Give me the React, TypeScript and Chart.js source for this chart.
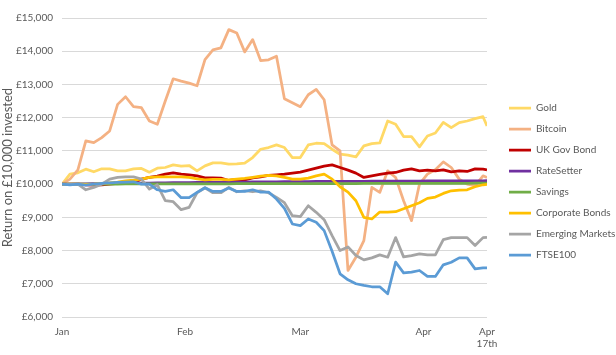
import React, { useEffect, useRef } from "react";
import { Chart, registerables } from "chart.js";

Chart.register(...registerables);

// Day offsets from 1 January (every second day, plus 17 April)
const days = [0, 2, 4, 6, 8, 10, 12, 14, 16, 18, 20, 22, 24, 26, 28, 30, 32, 34, 36, 38, 40, 42, 44, 46, 48, 50, 52, 54, 56, 58, 60, 62, 64, 66, 68, 70, 72, 74, 76, 78, 80, 82, 84, 86, 88, 90, 92, 94, 96, 98, 100, 102, 104, 106, 107];

const tickDays = [0, 31, 60, 91, 107];
const tickLabels: (string | string[])[] = ["Jan", "Feb", "Mar", "Apr", ["Apr", "17th"]];

const seriesNames = ["Gold", "Bitcoin", "UK Gov Bond", "RateSetter", "Savings", "Corporate Bonds", "Emerging Markets", "FTSE100"];

const gold = [10000, 10300, 10340, 10450, 10370, 10460, 10460, 10400, 10400, 10460, 10470, 10360, 10480, 10500, 10580, 10540, 10560, 10400, 10550, 10640, 10640, 10600, 10610, 10630, 10800, 11050, 11100, 11180, 11100, 10800, 10800, 11180, 11230, 11220, 11050, 10900, 10870, 10820, 11150, 11220, 11240, 11900, 11800, 11430, 11430, 11120, 11450, 11540, 11860, 11700, 11850, 11900, 11970, 12030, 11750];
const bitcoin = [10000, 10150, 10430, 11300, 11250, 11400, 11600, 12400, 12630, 12330, 12300, 11900, 11800, 12500, 13170, 13100, 13040, 12960, 13750, 14040, 14100, 14650, 14550, 13980, 14350, 13720, 13740, 13850, 12570, 12450, 12330, 12690, 12850, 12540, 11180, 11000, 7400, 7800, 8300, 9900, 9750, 10400, 10200, 9500, 8900, 10000, 10300, 10430, 10670, 10500, 10150, 10000, 9950, 10250, 10200];
const ukGovBond = [10000, 10000, 10000, 9980, 9970, 9980, 10000, 10020, 10030, 10050, 10150, 10200, 10240, 10300, 10340, 10300, 10280, 10250, 10190, 10190, 10180, 10110, 10140, 10130, 10190, 10220, 10260, 10280, 10300, 10330, 10360, 10420, 10480, 10540, 10580, 10500, 10420, 10330, 10200, 10250, 10290, 10330, 10350, 10420, 10460, 10400, 10420, 10400, 10430, 10370, 10400, 10380, 10460, 10450, 10430];
const rateSetter = [10000, 10003, 10006, 10009, 10012, 10015, 10018, 10021, 10024, 10027, 10030, 10033, 10036, 10039, 10042, 10045, 10048, 10050, 10052, 10054, 10056, 10058, 10060, 10062, 10064, 10066, 10068, 10070, 10072, 10074, 10076, 10078, 10080, 10081, 10082, 10083, 10084, 10085, 10086, 10087, 10088, 10089, 10090, 10091, 10092, 10093, 10094, 10095, 10096, 10097, 10098, 10099, 10100, 10101, 10102];
const savings = [10000, 10000, 10001, 10001, 10002, 10002, 10003, 10003, 10004, 10004, 10005, 10005, 10006, 10006, 10007, 10007, 10008, 10008, 10009, 10009, 10010, 10010, 10011, 10011, 10012, 10012, 10013, 10013, 10014, 10014, 10015, 10015, 10016, 10016, 10017, 10017, 10018, 10018, 10019, 10019, 10020, 10020, 10021, 10021, 10022, 10022, 10023, 10023, 10024, 10024, 10025, 10025, 10026, 10026, 10026];
const corporateBonds = [10000, 10000, 10000, 9990, 10000, 10020, 10040, 10060, 10100, 10120, 10150, 10200, 10220, 10220, 10220, 10220, 10200, 10160, 10130, 10140, 10140, 10130, 10150, 10170, 10200, 10240, 10260, 10250, 10200, 10150, 10150, 10180, 10250, 10300, 10150, 9920, 9760, 9500, 9000, 8950, 9160, 9160, 9170, 9260, 9350, 9440, 9570, 9610, 9720, 9800, 9820, 9830, 9920, 9980, 9990];
const emergingMarkets = [10000, 10000, 10000, 9830, 9900, 10000, 10150, 10200, 10220, 10220, 10150, 9850, 9980, 9500, 9470, 9230, 9300, 9740, 9890, 9740, 9740, 9900, 9770, 9800, 9770, 9800, 9740, 9600, 9440, 9050, 9020, 9350, 9150, 8930, 8450, 8000, 8110, 7850, 7720, 7780, 7870, 7800, 8390, 7810, 7850, 7900, 7870, 7870, 8330, 8390, 8390, 8390, 8150, 8390, 8400];
const ftse100 = [10000, 9980, 10000, 9970, 10000, 10020, 10040, 10050, 10060, 10070, 10000, 10000, 9830, 9780, 9830, 9590, 9590, 9750, 9890, 9780, 9780, 9880, 9780, 9780, 9830, 9760, 9760, 9550, 9270, 8800, 8750, 8950, 8850, 8600, 7980, 7300, 7120, 7000, 6950, 6910, 6910, 6700, 7650, 7330, 7350, 7400, 7220, 7220, 7570, 7650, 7780, 7780, 7450, 7480, 7480];

const seriesValues = [gold, bitcoin, ukGovBond, rateSetter, savings, corporateBonds, emergingMarkets, ftse100];
const seriesColors = ["#FFD966", "#F4B183", "#C00000", "#7030A0", "#70AD47", "#FFC000", "#A5A5A5", "#5B9BD5"];

const FONT = "Lato, Roboto, sans-serif";
const TEXT = "#595959";
const LEGEND_PAD = 11;

const legendPlace = {
  id: "legendPlace",
  afterLayout(chart: any) {
    const l = chart.legend;
    if (!l) return;
    const w = l.width;
    const h = l.height;
    const colH = l.columnSizes && l.columnSizes[0] ? l.columnSizes[0].height : 168;
    const firstTop = 103;
    const top = (2 * firstTop - LEGEND_PAD - h + colH) / 2;
    const left = 509 - LEGEND_PAD;
    l.left = left;
    l.right = left + w;
    l.top = top;
    l.bottom = top + h;
  },
};

export default function App() {
  const ref = useRef<HTMLCanvasElement | null>(null);

  useEffect(() => {
    if (!ref.current) return;
    Chart.defaults.font.family = FONT;
    const chart = new Chart(ref.current, {
      type: "line",
      data: {
        datasets: seriesNames.map((name, i) => ({
          label: name,
          data: seriesValues[i].map((v, j) => ({ x: days[j], y: v })),
          borderColor: seriesColors[i],
          backgroundColor: seriesColors[i],
          borderWidth: 2.75,
          pointRadius: 0,
          tension: 0,
          fill: false,
          order: seriesNames.length - 1 - i,
          borderJoinStyle: "round" as const,
        })),
      },
      options: {
        animation: false,
        responsive: false,
        layout: { padding: { left: 0, top: 18, right: 129, bottom: 0 } },
        plugins: {
          tooltip: { enabled: false },
          legend: {
            position: "chartArea",
            labels: {
              usePointStyle: true,
              pointStyle: "line",
              pointStyleWidth: 22,
              padding: LEGEND_PAD,
              color: TEXT,
              font: { size: 10, family: FONT },
              sort: (a: any, b: any) => a.datasetIndex - b.datasetIndex,
            },
          },
        },
        scales: {
          x: {
            type: "linear",
            min: 0,
            max: 107,
            grid: { display: false, drawTicks: false },
            border: { display: false },
            afterBuildTicks: (scale: any) => {
              scale.ticks = tickDays.map((v) => ({ value: v }));
            },
            afterFit: (scale: any) => {
              scale.height = 38;
            },
            ticks: {
              autoSkip: false,
              maxRotation: 0,
              padding: 9,
              color: TEXT,
              font: { size: 10, family: FONT },
              callback: (value: any) => tickLabels[tickDays.indexOf(value)] ?? "",
            },
          },
          y: {
            min: 6000,
            max: 15000,
            grid: { color: "#D9D9D9", drawTicks: false, lineWidth: 1 },
            border: { display: false },
            afterFit: (scale: any) => {
              scale.width = 62;
            },
            ticks: {
              stepSize: 1000,
              padding: 9,
              color: TEXT,
              font: { size: 10, family: FONT },
              callback: (value: any) => "£" + Number(value).toLocaleString("en-GB"),
            },
            title: {
              display: true,
              text: "Return on £10,000 invested",
              color: TEXT,
              font: { size: 13, family: FONT },
              padding: 0,
            },
          },
        },
      },
      plugins: [legendPlace],
    });
    return () => chart.destroy();
  }, []);

  return (
    <div style={{ position: "absolute", left: 0, top: 0, width: 616, height: 355, background: "#fff" }}>
      <canvas ref={ref} width={616} height={355} style={{ display: "block" }} />
    </div>
  );
}
